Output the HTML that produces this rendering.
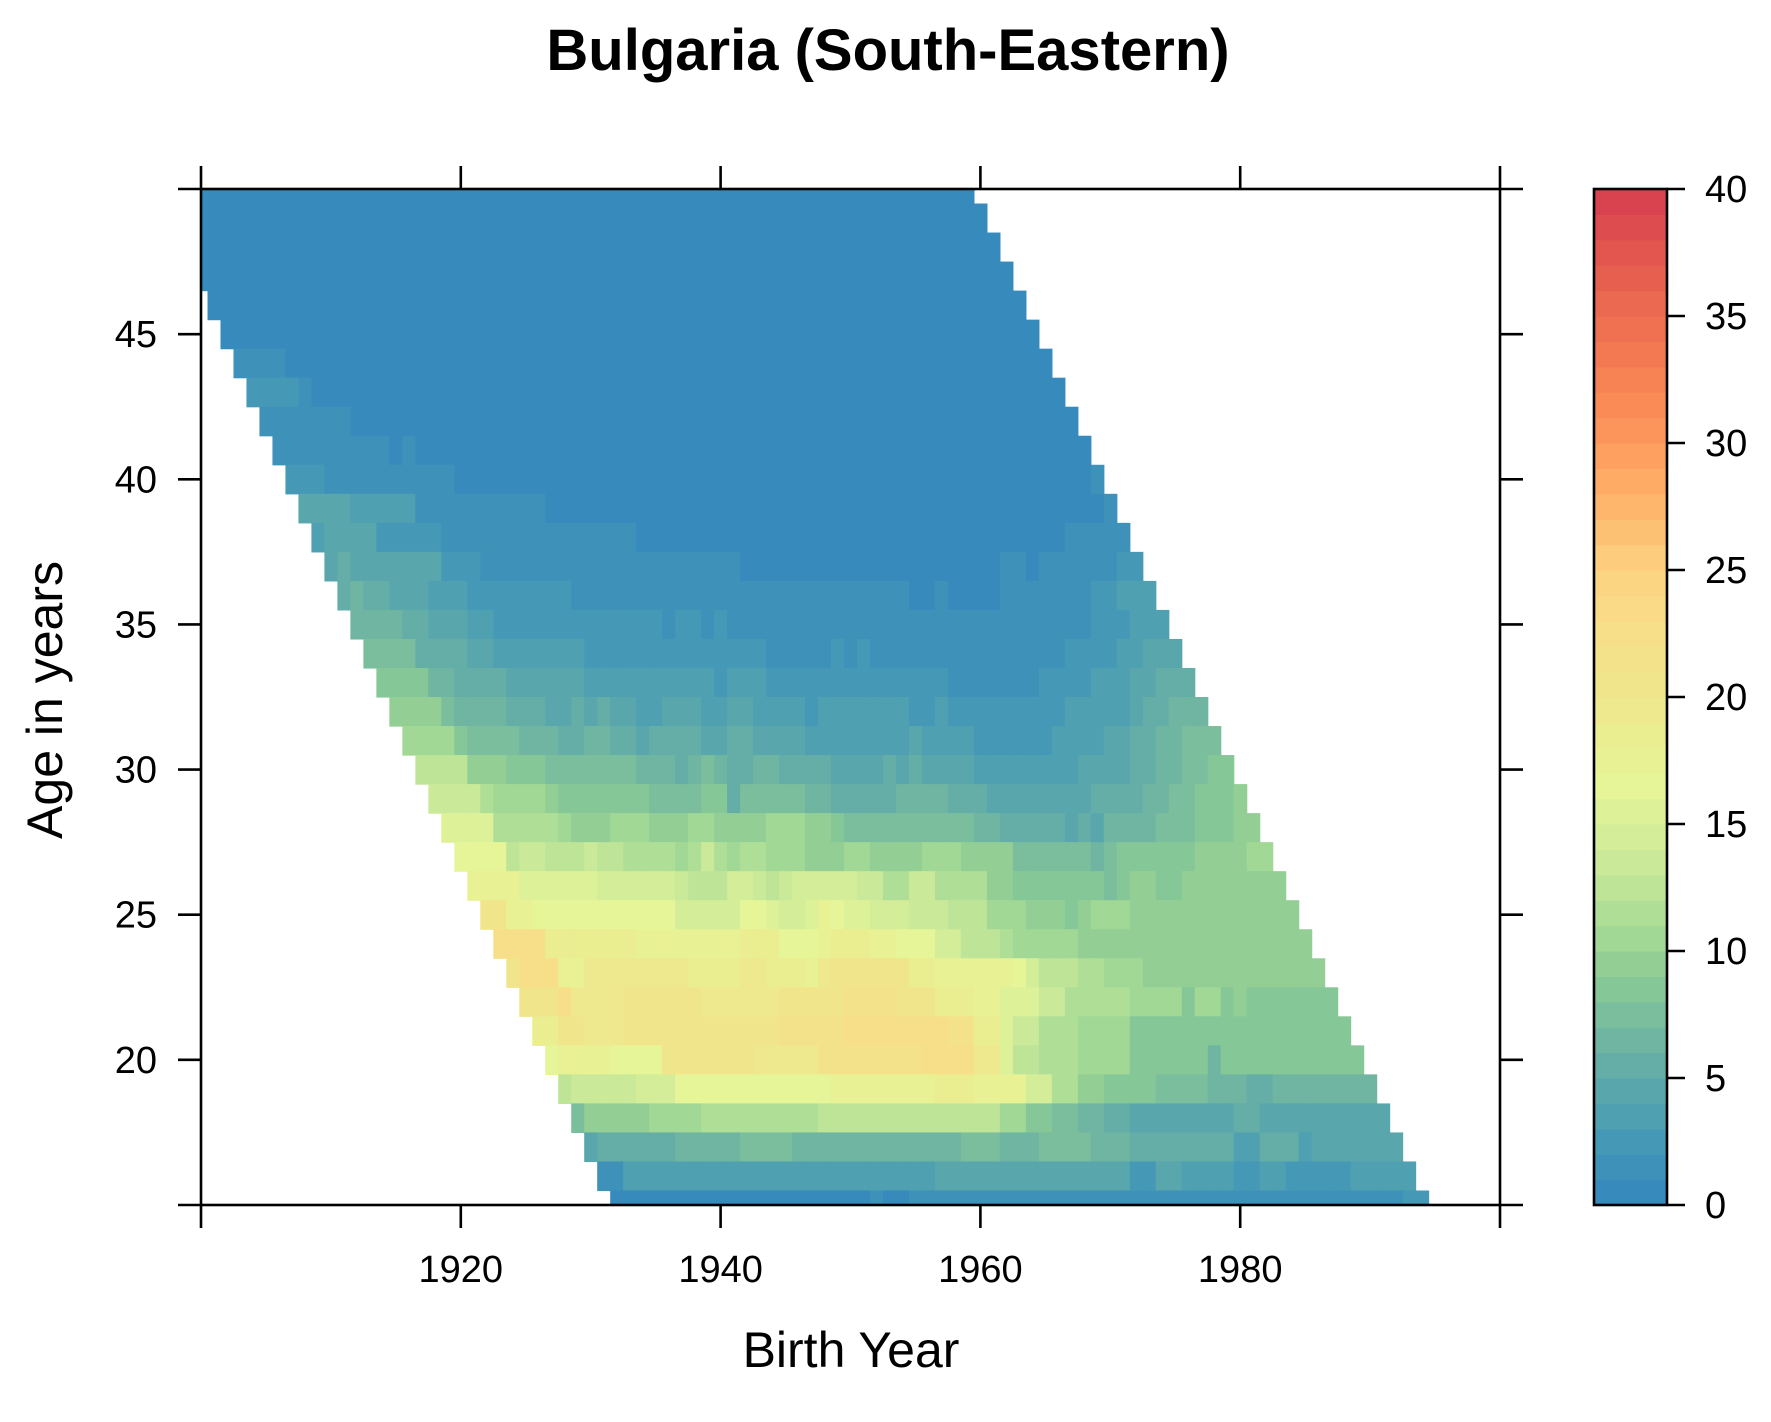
<!DOCTYPE html>
<html><head><meta charset="utf-8"><style>
html,body{margin:0;padding:0;background:#fff;}
svg text{font-family:"Liberation Sans",Arial,sans-serif;fill:#000;}
</style></head><body>
<svg id="chart" width="1771" height="1417" viewBox="0 0 1771 1417" xmlns="http://www.w3.org/2000/svg">
<text x="888" y="70" text-anchor="middle" font-size="58" font-weight="bold">Bulgaria (South-Eastern)</text>
<g id="cells"></g>
<g id="axes"></g>
<g id="cbar"></g>
<text x="851" y="1367" text-anchor="middle" font-size="50">Birth Year</text>
<text transform="translate(62,700) rotate(-90)" text-anchor="middle" font-size="50">Age in years</text>
</svg>
<script>
const ages = [50,49,48,47,46,45,44,43,42,41,40,39,38,37,36,35,34,33,32,31,30,29,28,27,26,25,24,23,22,21,20,19,18,17,16,15];
// each age row: breakpoints [firstCohort, value]
const rowSegments = [
 [[1900,0]],
 [[1900,0]],
 [[1900,0]],
 [[1900,0]],
 [[1900,0]],
 [[1900,0]],
 [[1900,1],[1907,0]],
 [[1900,2],[1908,1],[1909,0]],
 [[1900,1.5],[1912,0]],
 [[1900,1.5],[1915,0],[1916,1.5],[1917,0]],
 [[1900,2.5],[1910,1.5],[1920,0],[1969,1.5]],
 [[1900,4],[1912,3],[1917,1.5],[1927,0],[1970,1.5]],
 [[1900,3.5],[1910,4.5],[1911,4],[1914,2.5],[1919,1.5],[1934,0],[1967,1.5]],
 [[1900,4.5],[1911,5.5],[1912,4.5],[1914,4],[1919,2.5],[1922,1.5],[1942,0],[1962,1.5],[1964,0],[1965,1.5],[1971,2.5]],
 [[1900,5.5],[1912,6.5],[1913,5.5],[1915,4.5],[1918,3.5],[1921,2.5],[1929,1.5],[1955,0],[1957,1.5],[1958,0],[1962,1.5],[1969,2.5],[1971,3.5]],
 [[1900,6.5],[1916,5.5],[1918,4.5],[1921,3.5],[1923,2.5],[1936,1.5],[1937,2.5],[1939,1.5],[1940,2.5],[1941,1.5],[1969,2.5],[1972,3.5]],
 [[1900,7.5],[1917,5.5],[1921,4.5],[1923,3.5],[1930,2.5],[1944,1.5],[1949,2.5],[1950,1.5],[1951,2.5],[1952,1.5],[1967,2.5],[1971,3.5],[1973,4.5]],
 [[1900,8.5],[1918,6.5],[1920,5.5],[1924,4.5],[1930,3.5],[1940,2.5],[1941,3.5],[1944,2.5],[1958,1.5],[1965,2.5],[1969,3.5],[1972,4.5],[1974,5.5]],
 [[1900,9],[1919,7.5],[1920,6.5],[1924,5.5],[1927,4.5],[1929,5.5],[1930,4.5],[1931,5.5],[1932,4.5],[1934,3.5],[1936,4.5],[1939,3.5],[1941,4.5],[1943,3.5],[1947,2.5],[1948,3.5],[1955,2.5],[1957,3.5],[1958,2.5],[1967,3.5],[1972,4.5],[1973,5.5],[1975,6.5]],
 [[1900,10],[1920,8.5],[1921,7.5],[1925,6.5],[1928,5.5],[1930,6.5],[1932,5.5],[1934,4.5],[1935,5.5],[1939,4.5],[1941,5.5],[1943,4.5],[1947,3.5],[1955,4.5],[1956,3.5],[1960,2.5],[1966,3.5],[1970,4.5],[1972,5.5],[1974,6.5],[1976,7.5]],
 [[1900,12],[1921,9.5],[1924,8.5],[1927,7.5],[1934,6.5],[1937,5.5],[1938,6.5],[1939,7],[1940,6.5],[1941,5.5],[1943,6.5],[1945,5.5],[1949,4.5],[1953,5.5],[1954,4.5],[1955,5.5],[1956,4.5],[1960,3.5],[1968,4.5],[1972,5.5],[1974,6.5],[1976,7.5],[1978,8.5]],
 [[1900,13],[1922,11],[1923,10],[1927,9],[1928,8.5],[1935,7.5],[1939,8.5],[1940,8],[1941,5.5],[1942,7],[1947,6.5],[1949,5.5],[1954,6.5],[1958,5.5],[1961,4.5],[1969,5.5],[1973,6.5],[1975,7.5],[1977,8.5],[1980,9]],
 [[1900,15],[1923,11],[1928,10],[1929,9.5],[1932,10],[1935,9.5],[1938,10.5],[1940,9.5],[1941,9],[1944,10],[1947,9],[1949,8],[1950,7.5],[1960,6.5],[1962,5.5],[1967,4.5],[1968,5.5],[1969,4.5],[1970,6.5],[1974,7.5],[1977,8.5],[1980,9]],
 [[1900,16],[1924,12.5],[1925,13],[1927,12.5],[1930,13],[1931,12],[1933,11],[1937,10],[1938,11.5],[1939,13],[1940,11],[1941,10],[1942,11],[1944,10],[1947,9],[1950,10],[1952,9.5],[1956,10],[1959,9],[1963,7],[1969,6],[1970,7],[1971,8],[1977,9],[1981,10]],
 [[1900,17],[1925,15.5],[1931,14.5],[1937,13.5],[1938,12.5],[1941,14],[1943,13.5],[1944,12.5],[1945,13],[1946,14],[1951,13],[1953,11],[1955,13],[1957,11.5],[1961,9],[1963,8],[1970,7],[1971,8],[1972,9],[1974,8],[1976,9],[1980,9.5]],
 [[1900,20],[1924,17],[1926,16.5],[1931,16],[1937,14],[1942,16.5],[1944,15.5],[1945,14],[1947,15],[1948,17],[1949,16],[1950,15.5],[1952,14],[1955,13.5],[1958,12],[1961,10.5],[1964,9.5],[1967,8],[1968,9],[1969,10],[1972,9.5],[1985,10]],
 [[1900,22],[1927,18.5],[1934,17],[1937,17.5],[1942,18],[1945,16.5],[1948,17],[1949,18],[1952,17],[1954,16],[1957,14.5],[1959,12.5],[1962,11],[1963,10.5],[1968,9.5]],
 [[1900,20],[1925,22],[1928,17.5],[1930,19],[1938,18],[1942,19.5],[1944,18],[1947,17],[1948,19.5],[1949,20],[1955,18.5],[1957,17],[1963,16],[1964,14],[1965,12.5],[1968,11],[1970,10],[1973,9.5]],
 [[1900,20],[1928,22],[1929,19],[1933,20],[1939,19.5],[1945,20],[1950,21],[1954,20.5],[1957,18.5],[1960,17],[1962,15],[1965,13.5],[1967,11.5],[1972,10],[1976,8.5],[1977,10],[1979,8.5],[1980,9.5],[1981,8.5]],
 [[1900,18],[1928,20],[1930,19],[1933,20],[1941,20.5],[1945,21],[1950,22.5],[1958,21],[1960,18],[1962,15.5],[1963,13],[1965,11],[1968,10],[1970,10.5],[1972,8.5]],
 [[1900,16],[1928,17],[1932,16.5],[1936,20],[1943,19.5],[1948,21],[1950,21.5],[1956,22.5],[1960,19],[1962,15.5],[1963,12],[1965,11],[1968,10],[1972,8.5],[1978,6.5],[1979,8]],
 [[1900,12],[1929,13.5],[1934,14],[1937,16.5],[1944,16],[1949,17.5],[1957,18],[1960,17],[1964,14.5],[1966,11.5],[1968,9],[1970,8],[1972,8.5],[1974,7.5],[1978,6],[1981,5.5],[1983,6]],
 [[1900,7],[1930,9],[1935,10],[1939,11.5],[1944,11],[1948,12],[1953,12.5],[1957,12],[1962,10.5],[1964,8.5],[1966,7],[1968,6],[1970,5],[1972,4.5],[1975,4],[1980,5.5],[1982,4.5]],
 [[1900,4.5],[1931,5],[1937,6],[1942,7.5],[1946,6.5],[1959,7.5],[1962,6.5],[1965,7.5],[1969,6.5],[1972,5],[1980,3.5],[1982,5],[1985,3.5],[1986,4.5]],
 [[1900,1.5],[1933,3],[1957,4],[1972,2.5],[1974,4],[1976,3],[1980,2.5],[1982,3.5],[1984,2.5],[1989,3.5]],
 [[1900,0.5],[1952,1.5],[1953,0],[1955,1.5],[1993,2.5]]
];
const periodMin = 1947, periodMax = 2009;
const xTicks = [1900,1920,1940,1960,1980,2000];
const xTickLabels = ["","1920","1940","1960","1980",""];
const yTicks = [15,20,25,30,35,40,45,50];
const yTickLabels = ["","20","25","30","35","40","45",""];
const keyTicks = [0,5,10,15,20,25,30,35,40];
const paletteLevels = [0,3,5,7,9,11,13,16.5,20,23,25,27,29,31,33,36,40];
const paletteColors = ["#3288BD","#4a9cb4","#5eaaa9","#74b9a0","#8ccb95","#a8dc95","#c5e799","#e6f598","#efe78c","#f9dd88","#fdd280","#fdbb6e","#fda662","#fb8f58","#f57d53","#e9654f","#d53e4f"];

const NS="http://www.w3.org/2000/svg";
const X0=201,X1=1500,Y0=189,Y1=1205;
const xMin=1900,xMax=2000,yMin=15,yMax=50,zMax=40;
const xs=v=>X0+(v-xMin)*(X1-X0)/(xMax-xMin);
const ys=v=>Y1-(v-yMin)*(Y1-Y0)/(yMax-yMin);
function hex(h){return [1,3,5].map(i=>parseInt(h.substr(i,2),16));}
const stops=paletteColors.map(hex);
function color(z){
  z=Math.max(0,Math.min(zMax-0.01,z));
  z=Math.floor(z)+0.5;
  let i=0;
  while(i<paletteLevels.length-2&&z>paletteLevels[i+1])i++;
  const f=(z-paletteLevels[i])/(paletteLevels[i+1]-paletteLevels[i]);
  const c=stops[i].map((v,k)=>Math.round(v+(stops[i+1][k]-v)*f));
  return "rgb("+c.join(",")+")";
}
function mk(tag,attrs,parent){const e=document.createElementNS(NS,tag);for(const k in attrs)e.setAttribute(k,attrs[k]);parent.appendChild(e);return e;}
const cells=document.getElementById('cells');
ages.forEach((a,ri)=>{
  const segs=rowSegments[ri];
  for(let c=1899;c<=2000;c++){
    if(c+a<periodMin||c+a>periodMax)continue;
    let v=null;
    for(const s of segs){if(c>=s[0])v=s[1];}
    if(v===null)continue;
    const xa=Math.max(X0,xs(c-0.5)),xb=Math.min(X1,xs(c+0.5));
    const ya=Math.max(Y0,ys(a+0.5)),yb=Math.min(Y1,ys(a-0.5));
    if(xb<=xa||yb<=ya)continue;
    const r=mk('rect',{x:xa.toFixed(2),y:ya.toFixed(2),width:(xb-xa+0.6).toFixed(2),height:(yb-ya+0.6).toFixed(2),fill:color(v)},cells);
    
    
  }
});
const axes=document.getElementById('axes');
const fr=mk('rect',{x:X0,y:Y0,width:X1-X0,height:Y1-Y0,fill:'none',stroke:'#000','stroke-width':2.6},axes);


xTicks.forEach((t,i)=>{
  const x=xs(t);
  const l1=mk('line',{x1:x,y1:Y1,x2:x,y2:Y1+23,stroke:'#000','stroke-width':2.6},axes);
  
  
  const l2=mk('line',{x1:x,y1:Y0,x2:x,y2:Y0-23,stroke:'#000','stroke-width':2.6},axes);
  
  
  if(xTickLabels[i]){const tx=mk('text',{x:x,y:1282,'text-anchor':'middle','font-size':38},axes);tx.textContent=xTickLabels[i];
  
  }
});
yTicks.forEach((t,i)=>{
  const y=ys(t);
  const l1=mk('line',{x1:X0-23,y1:y,x2:X0,y2:y,stroke:'#000','stroke-width':2.6},axes);
  
  
  const l2=mk('line',{x1:X1,y1:y,x2:X1+23,y2:y,stroke:'#000','stroke-width':2.6},axes);
  
  
  if(yTickLabels[i]){const tx=mk('text',{x:157,y:y+13,'text-anchor':'end','font-size':38},axes);tx.textContent=yTickLabels[i];
  
  }
});
const cb=document.getElementById('cbar');
const CX0=1594,CX1=1667;
const cy=v=>Y1-v/zMax*(Y1-Y0);
for(let z=0;z<zMax;z+=1){
  const r=mk('rect',{x:CX0,y:cy(z+1).toFixed(2),width:CX1-CX0,height:((Y1-Y0)/40+0.6).toFixed(2),fill:color(z+0.5)},cb);
  
  
}
const cf=mk('rect',{x:CX0,y:Y0,width:CX1-CX0,height:Y1-Y0,fill:'none',stroke:'#000','stroke-width':2.6},cb);


keyTicks.forEach(t=>{
  const y=cy(t);
  const l=mk('line',{x1:CX1,y1:y,x2:CX1+18,y2:y,stroke:'#000','stroke-width':2.6},cb);
  
  
  const tx=mk('text',{x:1705,y:y+13,'font-size':38},cb);tx.textContent=String(t);
  
  
});
</script>
</body></html>
